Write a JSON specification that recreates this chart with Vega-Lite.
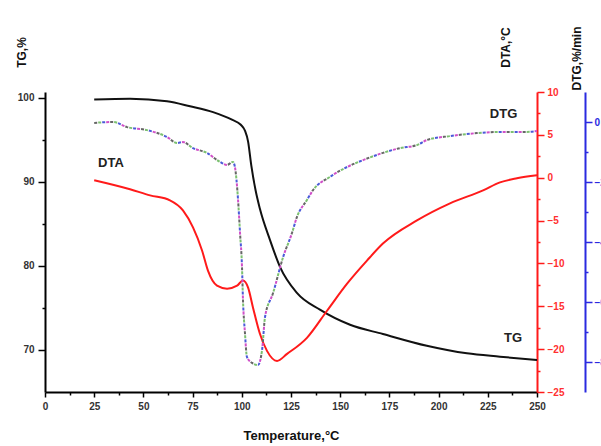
{
  "$schema": "https://vega.github.io/schema/vega-lite/v6.json",
  "autosize": "none",
  "width": 492,
  "height": 300,
  "padding": {"left": 45, "top": 92, "right": 64, "bottom": 54},
  "background": "white",
  "config": {
    "view": {"stroke": null},
    "axis": {"grid": false, "labelFont": "Liberation Sans", "labelFontWeight": "bold", "labelFontSize": 10, "titleFont": "Liberation Sans", "titleFontWeight": "bold", "titleFontSize": 12, "titleColor": "#111", "labelColor": "#333", "domainWidth": 2, "tickWidth": 1.5}
  },
  "datasets": {
    "tg": [
      {"t": 25, "v": 99.8}, {"t": 43.2, "v": 99.9}, {"t": 62, "v": 99.6}, {"t": 73.7, "v": 99.0},
      {"t": 85.4, "v": 98.3}, {"t": 95, "v": 97.4}, {"t": 99.5, "v": 96.8}, {"t": 101.6, "v": 96.1}, {"t": 103.2, "v": 94.8},
      {"t": 104.8, "v": 92.0}, {"t": 107, "v": 89.0}, {"t": 109.2, "v": 86.8}, {"t": 114.3, "v": 83.1}, {"t": 119.4, "v": 79.9},
      {"t": 128, "v": 76.8}, {"t": 139.7, "v": 74.8}, {"t": 155, "v": 73.0}, {"t": 171.7, "v": 71.9},
      {"t": 194, "v": 70.5}, {"t": 214.4, "v": 69.6}, {"t": 231.2, "v": 69.2}, {"t": 250, "v": 68.8}
    ],
    "labels": [
      {"t": 233, "v": 98.1, "label": "DTG"},
      {"t": 33.5, "v": 92.3, "label": "DTA"},
      {"t": 237.8, "v": 71.4, "label": "TG"}
    ],
    "dta": [
      {"t": 25, "v": -0.3}, {"t": 43.2, "v": -1.35}, {"t": 53.4, "v": -2.06}, {"t": 63.5, "v": -2.64},
      {"t": 70.1, "v": -3.81}, {"t": 75.2, "v": -5.8}, {"t": 79.8, "v": -8.49}, {"t": 82.8, "v": -10.84},
      {"t": 87.4, "v": -12.59}, {"t": 92.5, "v": -12.94}, {"t": 97.6, "v": -12.59}, {"t": 100.6, "v": -12.0},
      {"t": 103.2, "v": -12.83}, {"t": 105.7, "v": -15.17}, {"t": 109.2, "v": -18.21}, {"t": 112.8, "v": -20.2},
      {"t": 117.9, "v": -21.37}, {"t": 123.0, "v": -20.55}, {"t": 133.1, "v": -18.68}, {"t": 143.3, "v": -15.52},
      {"t": 153.5, "v": -12.36}, {"t": 163.6, "v": -9.67}, {"t": 171.7, "v": -7.68}, {"t": 189.0, "v": -4.98},
      {"t": 205.8, "v": -2.99}, {"t": 222.6, "v": -1.47}, {"t": 231.2, "v": -0.54}, {"t": 239.8, "v": -0.07},
      {"t": 250, "v": 0.28}
    ],
    "dtg": [
      {"t": 25, "v": -0.03}, {"t": 34.6, "v": 0.0}, {"t": 41.7, "v": -0.17}, {"t": 51.8, "v": -0.27},
      {"t": 62.0, "v": -0.5}, {"t": 67.1, "v": -0.7}, {"t": 70.1, "v": -0.67}, {"t": 75.2, "v": -0.87},
      {"t": 82.3, "v": -1.03}, {"t": 88.9, "v": -1.33}, {"t": 92.5, "v": -1.43}, {"t": 95.5, "v": -1.33},
      {"t": 96.5, "v": -1.5}, {"t": 98.1, "v": -2.6}, {"t": 99.1, "v": -3.7}, {"t": 100.1, "v": -4.83},
      {"t": 100.6, "v": -5.93}, {"t": 101.6, "v": -7.03}, {"t": 102.6, "v": -7.83}, {"t": 105.2, "v": -8.03},
      {"t": 108.2, "v": -8.1}, {"t": 110.3, "v": -7.6}, {"t": 111.8, "v": -6.5}, {"t": 115.9, "v": -5.7},
      {"t": 121.0, "v": -4.5}, {"t": 125.5, "v": -3.7}, {"t": 128.0, "v": -3.17}, {"t": 133.1, "v": -2.6},
      {"t": 136.2, "v": -2.27}, {"t": 144.8, "v": -1.83}, {"t": 153.5, "v": -1.5}, {"t": 161.6, "v": -1.27},
      {"t": 171.7, "v": -1.03}, {"t": 180.4, "v": -0.87}, {"t": 189.0, "v": -0.77}, {"t": 194.1, "v": -0.6},
      {"t": 205.8, "v": -0.47}, {"t": 219.5, "v": -0.37}, {"t": 231.2, "v": -0.33}, {"t": 244.9, "v": -0.33},
      {"t": 250, "v": -0.3}
    ]
  },
  "encoding": {
    "x": {
      "field": "t", "type": "quantitative",
      "scale": {"domain": [0, 250], "nice": false, "zero": false},
      "axis": {
        "values": [0, 12.5, 25, 37.5, 50, 62.5, 75, 87.5, 100, 112.5, 125, 137.5, 150, 162.5, 175, 187.5, 200, 212.5, 225, 237.5, 250],
        "labelExpr": "datum.value % 25 === 0 ? datum.label : ''",
        "tickSize": {"condition": {"test": "datum.value % 25 === 0", "value": 5}, "value": 3},
        "domainColor": "#000", "tickColor": "#000",
        "labelPadding": 4, "labelFlush": false,
        "title": "Temperature,°C", "titleFontSize": 13, "titlePadding": 18
      }
    }
  },
  "layer": [
    {
      "layer": [
        {
          "data": {"name": "tg"},
          "mark": {"type": "line", "color": "#111", "strokeWidth": 2, "interpolate": "monotone"},
          "encoding": {
            "y": {
              "field": "v", "type": "quantitative",
              "scale": {"domain": [65, 100.7], "nice": false, "zero": false},
              "axis": {
                "orient": "left",
                "values": [70, 75, 80, 85, 90, 95, 100],
                "labelExpr": "datum.value % 10 === 0 ? datum.label : ''",
                "tickSize": {"condition": {"test": "datum.value % 10 === 0", "value": 7}, "value": 3},
                "domainColor": "#000", "tickColor": "#000", "labelPadding": 4,
                "title": "TG,%", "titleAngle": 270, "titleAlign": "center", "titleBaseline": "middle",
                "titleX": -24, "titleY": -40
              }
            }
          }
        },
        {
          "data": {"name": "labels"},
          "mark": {"type": "text", "font": "Liberation Sans", "fontWeight": "bold", "fontSize": 13, "color": "#222"},
          "encoding": {
            "y": {"field": "v", "type": "quantitative"},
            "text": {"field": "label", "type": "nominal"}
          }
        }
      ]
    },
    {
      "data": {"name": "dta"},
      "mark": {"type": "line", "color": "#ff1a1a", "strokeWidth": 2, "interpolate": "monotone"},
      "encoding": {
        "y": {
          "field": "v", "type": "quantitative",
          "scale": {"domain": [-25, 10], "nice": false, "zero": false},
          "axis": {
            "orient": "right",
            "values": [-25, -22.5, -20, -17.5, -15, -12.5, -10, -7.5, -5, -2.5, 0, 2.5, 5, 7.5, 10],
            "labelExpr": "datum.value % 5 === 0 ? datum.label : ''",
            "tickSize": {"condition": {"test": "datum.value % 5 === 0", "value": 7}, "value": 3},
            "domainColor": "#ff1a1a", "tickColor": "#ff1a1a", "labelColor": "#ff3030", "labelPadding": 3,
            "title": "DTA,°C", "titleAngle": 270, "titleAlign": "center", "titleBaseline": "middle",
            "titleX": -32, "titleY": -45
          }
        }
      }
    },
    {
      "data": {"name": "dtg"},
      "encoding": {
        "y": {
          "field": "v", "type": "quantitative",
          "scale": {"domain": [-9, 1], "nice": false, "zero": false},
          "axis": {
            "orient": "right", "offset": 48,
            "values": [-8, -7, -6, -5, -4, -3, -2, -1, 0],
            "labelExpr": "datum.value % 2 === 0 ? datum.label : ''",
            "tickSize": {"condition": {"test": "datum.value % 2 === 0", "value": 7}, "value": 3},
            "domainColor": "#2a2ae0", "tickColor": "#2a2ae0", "labelColor": "#2a2ae0", "labelPadding": 2,
            "title": "DTG,%/min", "titleAngle": 270, "titleAlign": "center", "titleBaseline": "middle",
            "titleX": -9, "titleY": -34
          }
        }
      },
      "layer": [
        {"mark": {"type": "line", "color": "#666666", "strokeWidth": 2, "strokeDash": [3, 13], "strokeDashOffset": 0, "interpolate": "monotone"}},
        {"mark": {"type": "line", "color": "#d050c8", "strokeWidth": 2, "strokeDash": [3, 13], "strokeDashOffset": 4, "interpolate": "monotone"}},
        {"mark": {"type": "line", "color": "#4a5ad8", "strokeWidth": 2, "strokeDash": [3, 13], "strokeDashOffset": 8, "interpolate": "monotone"}},
        {"mark": {"type": "line", "color": "#7cc070", "strokeWidth": 2, "strokeDash": [3, 13], "strokeDashOffset": 12, "interpolate": "monotone"}}
      ]
    }
  ],
  "resolve": {"scale": {"y": "independent"}, "axis": {"y": "independent"}}
}
